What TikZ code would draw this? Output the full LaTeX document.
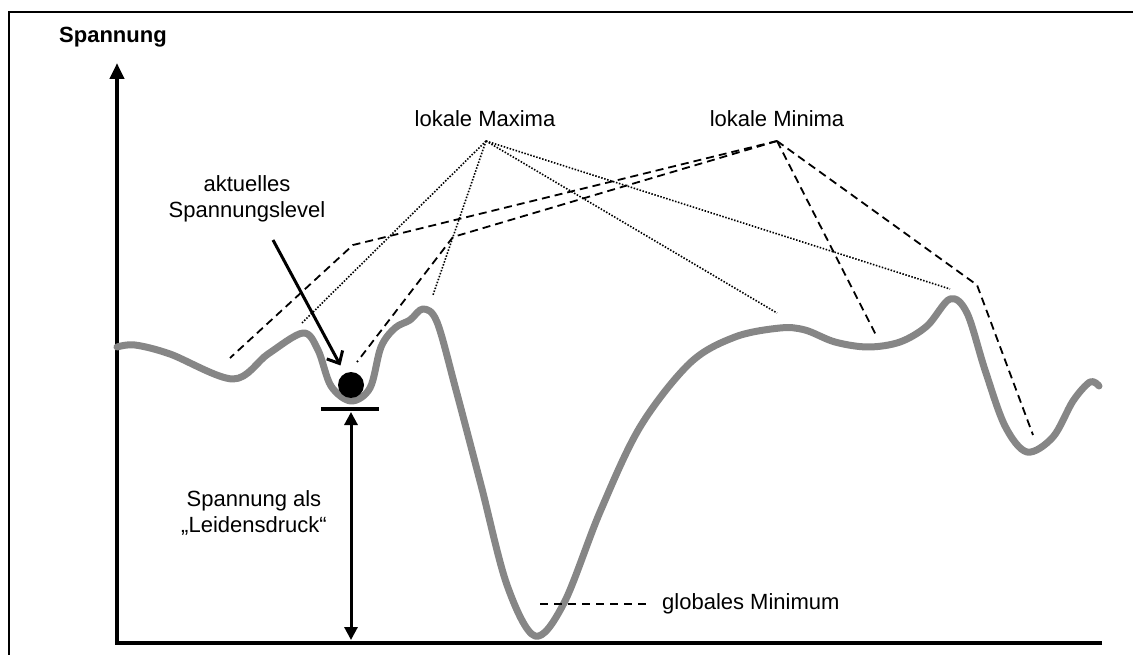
\documentclass[tikz,border=0pt]{standalone}
\usepackage{fontspec}
\setmainfont{Liberation Sans}
\usetikzlibrary{arrows.meta}
\definecolor{curvegray}{RGB}{134,134,134}
\begin{document}
\begin{tikzpicture}[x=1pt,y=-1pt,
  lbl/.style={font=\fontsize{22}{26}\selectfont, inner sep=0pt, align=center},
  frameline/.style={line width=2pt},
  axisline/.style={line width=4pt},
  energy/.style={line width=7pt, color=curvegray, line cap=round, line join=round},
  minline/.style={line width=1.8pt, dash pattern=on 8pt off 5pt},
  maxline/.style={line width=1.6pt, dash pattern=on 1.5pt off 1.6pt},
  ballarrow/.style={line width=3pt, -{Straight Barb[length=10pt,width=18pt,line width=3pt]}},
  levelarrow/.style={line width=3pt, {Triangle[length=13pt,width=13pt]}-{Triangle[length=13pt,width=13pt]}},
]
\useasboundingbox (0,0) rectangle (1133,655);

% outer frame
\draw[frameline] (9,655) -- (9,12) -- (1133,12);

% axes
\coordinate (O) at (117,643);
\coordinate (ytip) at (117,63);
\coordinate (xend) at (1102,643);
\draw[axisline, -{Triangle[length=16pt,width=14pt]}] (xend) -- (O) -- (ytip);
\node[lbl, anchor=base west, font=\fontsize{22}{26}\selectfont\bfseries] (ylabel) at (59,43) {Spannung};

% energy landscape
\draw[energy] plot[smooth, tension=0.55] coordinates {
  (117,347) (135,345) (170,354) (233,379) (268,354) (303,333) (318,350)
  (331,386) (351,401) (370,388) (381,347) (395,328) (410,320) (423,309)
  (437,322) (456,390) (481,485) (507,585) (535,636) (564,603) (600,512)
  (640,427) (690,363) (735,337) (780,328) (805,330) (835,342) (868,347)
  (900,342) (927,326) (950,299) (967,313) (985,370) (1005,426) (1027,452)
  (1053,437) (1073,401) (1090,382) (1099,386)};

% ball and current level
\node[circle, fill=black, minimum size=26pt, inner sep=0pt] (ball) at (351,385) {};
\coordinate (barL) at (321,409);
\coordinate (barR) at (379,409);
\draw[line width=3.5pt] (barL) -- (barR);
\coordinate (levtop) at (351,412);
\coordinate (levbot) at (351,640);
\draw[levelarrow] (levtop) -- (levbot);
\node[lbl] (leid) at (254,513) {Spannung als\\\char"201E Leidensdruck\char"201C};

\node[lbl] (akt) at (247,199) {aktuelles\\Spannungslevel};
\coordinate (arrS) at (273,240);
\draw[ballarrow, shorten >=9pt] (arrS) -- (ball);

% local maxima (dotted)
\node[lbl, anchor=base] (maxlbl) at (485,127) {lokale Maxima};
\coordinate (maxapex) at (486,141);
\coordinate (mx1) at (302,323);
\coordinate (mx2) at (433,295);
\coordinate (mx3) at (777,313);
\coordinate (mx4) at (950,289);
\foreach \t in {mx1,mx2,mx3,mx4} \draw[maxline] (maxapex) -- (\t);

% local minima (dashed)
\node[lbl, anchor=base] (minlbl) at (777,127) {lokale Minima};
\coordinate (minapex) at (777,141);
\coordinate (mnA1) at (353,245);
\coordinate (mnA2) at (230,358);
\coordinate (mnB1) at (453,237);
\coordinate (mnB2) at (357,362);
\coordinate (mnC) at (877,337);
\coordinate (mnD1) at (977,285);
\coordinate (mnD2) at (1033,435);
\draw[minline] (minapex) -- (mnA1) -- (mnA2);
\draw[minline] (minapex) -- (mnB1) -- (mnB2);
\draw[minline] (minapex) -- (mnC);
\draw[minline] (minapex) -- (mnD1) -- (mnD2);

% global minimum
\node[lbl, anchor=west] (glbl) at (662,604) {globales Minimum};
\coordinate (gmin) at (540,604);
\draw[line width=1.5pt, dash pattern=on 8pt off 6pt] (gmin) -- ([xshift=-16pt]glbl.west);
\end{tikzpicture}
\end{document}
